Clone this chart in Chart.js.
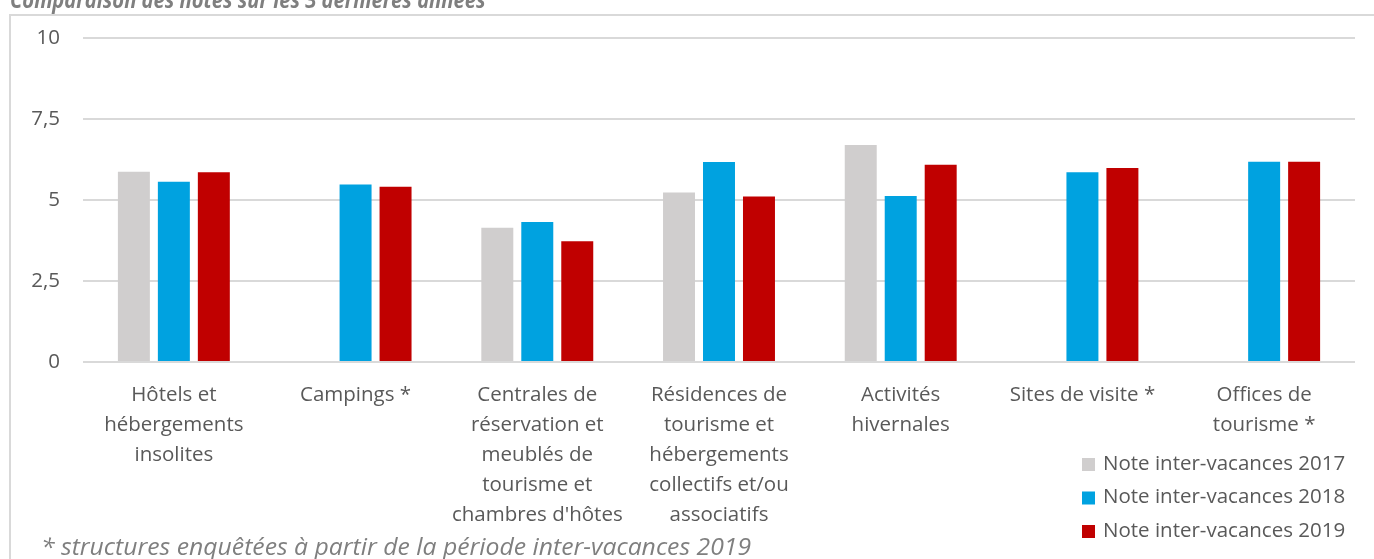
<!DOCTYPE html>
<html>
<head>
<meta charset="utf-8">
<script src="https://cdn.jsdelivr.net/npm/chart.js@4.4.0/dist/chart.umd.min.js"></script>
<style>
  body { margin: 0; background: #fff; overflow: hidden; }
  #frame { position: absolute; left: 9px; top: 14px; width: 1400px; height: 600px; border: 2px solid #d9d9d9; box-sizing: border-box; }
  #chart { position: absolute; left: 0; top: 0; }
  #title { position: absolute; left: 10px; top: -13px; font: italic bold 24px "Open Sans"; line-height: 24px; color: #7f7f7f; white-space: nowrap; transform: scaleX(0.84); transform-origin: left top; }
  #note { position: absolute; left: 41px; top: 534px; font: italic 23px "Open Sans"; line-height: 24px; color: #7f7f7f; white-space: nowrap; transform: scaleX(1.076); transform-origin: left top; }
</style>
</head>
<body>
<div id="frame"></div>
<canvas id="chart" width="1374" height="559"></canvas>
<div id="title">Comparaison des notes sur les 3 dernières années</div>
<div id="note">* structures enquêtées à partir de la période inter-vacances 2019</div>
<script>
// categories (wrapped as in the original axis)
const categories = [
  ["Hôtels et", "hébergements", "insolites"],
  ["Campings *"],
  ["Centrales de", "réservation et", "meublés de", "tourisme et", "chambres d'hôtes"],
  ["Résidences de", "tourisme et", "hébergements", "collectifs et/ou", "associatifs"],
  ["Activités", "hivernales"],
  ["Sites de visite *"],
  ["Offices de", "tourisme *"]
];
const seriesNames = ["Note inter-vacances 2017", "Note inter-vacances 2018", "Note inter-vacances 2019"];
const note2017 = [5.87, null, 4.14, 5.23, 6.70, null, null];
const note2018 = [5.56, 5.48, 4.32, 6.17, 5.12, 5.86, 6.18];
const note2019 = [5.86, 5.41, 3.73, 5.11, 6.09, 5.99, 6.18];
const yTicks = [0, 2.5, 5, 7.5, 10];

const colors = ["#d0cece", "#00a2e0", "#c00000"];
const textColor = "#595959";

// legend drawn in the lower right, stacked
const stackedLegend = {
  id: "stackedLegend",
  afterDraw(chart) {
    const ctx = chart.ctx;
    ctx.save();
    ctx.font = '20.5px "Open Sans"';
    ctx.textBaseline = "middle";
    chart.data.datasets.forEach((ds, i) => {
      const y = 464 + i * 33.5;
      ctx.fillStyle = ds.backgroundColor;
      ctx.fillRect(1082, y - 6, 13, 13);
      ctx.fillStyle = textColor;
      ctx.fillText(ds.label, 1103, y);
    });
    ctx.restore();
  }
};

const ctx = document.getElementById("chart").getContext("2d");
new Chart(ctx, {
  type: "bar",
  data: {
    labels: categories,
    datasets: [
      { label: seriesNames[0], data: note2017, backgroundColor: colors[0] },
      { label: seriesNames[1], data: note2018, backgroundColor: colors[1] },
      { label: seriesNames[2], data: note2019, backgroundColor: colors[2] }
    ]
  },
  options: {
    responsive: false,
    animation: false,
    devicePixelRatio: 1,
    categoryPercentage: 0.66,
    barPercentage: 0.8,
    layout: { padding: { left: 0, top: 38, right: 19, bottom: 0 } },
    plugins: {
      legend: { display: false },
      tooltip: { enabled: false }
    },
    scales: {
      x: {
        grid: { display: false },
        border: { display: false },
        ticks: {
          color: textColor,
          font: { family: "Open Sans", size: 20.5, lineHeight: 1.46 },
          padding: 10,
          maxRotation: 0,
          autoSkip: false
        },
        afterFit(scale) { scale.height = 197; }
      },
      y: {
        min: 0,
        max: 10,
        afterBuildTicks(scale) { scale.ticks = yTicks.map(v => ({ value: v })); },
        afterFit(scale) { scale.width = 83; },
        grid: { color: "#d9d9d9", lineWidth: 2, drawTicks: false },
        border: { display: false },
        ticks: {
          color: textColor,
          font: { family: "Open Sans", size: 20.5 },
          padding: 23,
          callback: v => String(v).replace(".", ",")
        }
      }
    }
  },
  plugins: [stackedLegend]
});
</script>
</body>
</html>
